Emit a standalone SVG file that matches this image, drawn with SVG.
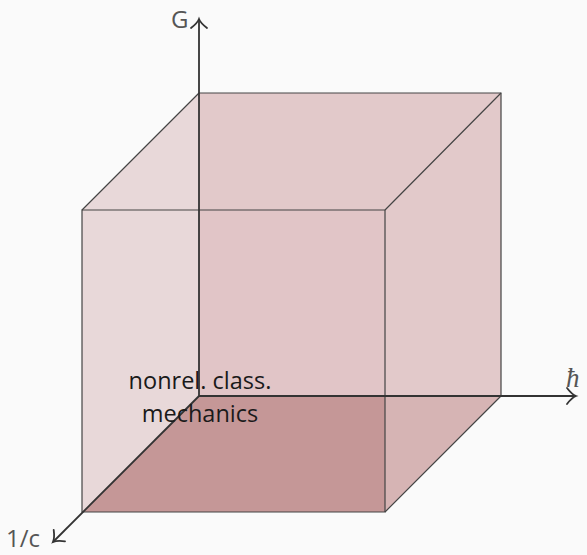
<svg xmlns="http://www.w3.org/2000/svg" width="587" height="555" viewBox="0 0 587 555">
<defs>
<marker id="arr" markerWidth="24" markerHeight="24" refX="0" refY="0" viewBox="-12 -12 14 24" orient="auto" markerUnits="userSpaceOnUse">
<path d="M-9,-8 Q-4,-1.5 0,0 Q-4,1.5 -9,8" fill="none" stroke="#333" stroke-width="1.8" stroke-linecap="round"/>
</marker>
</defs>
<style>
.edge{fill:none;stroke:#444;stroke-width:1.2}
.axis{fill:none;stroke:#333;stroke-width:1.8}
.lab{font-family:"Open Sans",sans-serif;font-size:24px;fill:#555}
.txt{font-family:"Open Sans",sans-serif;font-size:23.5px;fill:#1a1a1a}
</style>
<rect width="587" height="555" fill="#fafafa"/>
<g id="faces">
<polygon points="82,210 199,93 199,396 82,512" fill="#e8d8d9"/>
<polygon points="199,93 501,93 501,396 199,396" fill="#e2c9ca"/>
<polygon points="199,210 385,210 385,396 199,396" fill="#e1c5c7"/>
<polygon points="385,396 501,396 385,512" fill="#d6b4b4"/>
<polygon points="199,396 385,396 385,512 82,512" fill="#c59797"/>
</g>
<g id="edges">
<path class="edge" d="M82,210 H385 V512 H82 Z"/>
<path class="edge" d="M199,93 H501 V396"/>
<path class="edge" d="M82,210 L199,93 M385,210 L501,93 M385,512 L501,396"/>
</g>
<g id="axes">
<line class="axis" x1="199" y1="396" x2="199" y2="19" marker-end="url(#arr)"/>
<line class="axis" x1="199" y1="396" x2="576" y2="396" marker-end="url(#arr)"/>
<line class="axis" x1="199" y1="396" x2="53" y2="542" marker-end="url(#arr)"/>
</g>
<text class="lab" x="171" y="28">G</text>
<text x="566" y="387" font-family="Liberation Serif,serif" font-style="italic" font-size="27" fill="#555">ħ</text>
<text class="lab" x="6" y="547">1/c</text>
<g id="label">
<text class="txt" x="200" y="389" text-anchor="middle">nonrel. class.</text>
<text class="txt" x="200" y="422" text-anchor="middle">mechanics</text>
</g>
</svg>
